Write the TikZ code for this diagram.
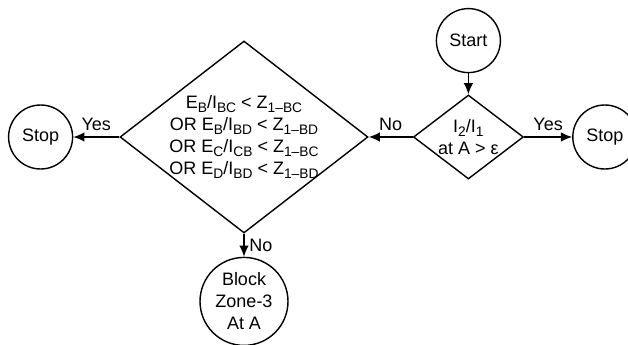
\documentclass[tikz,border=0pt]{standalone}
\usepackage{fontspec}
\setmainfont{Liberation Sans}
\usetikzlibrary{arrows.meta, positioning, shapes.geometric}
\newcommand{\lowsub}[1]{\raisebox{-0.22em}{\fontsize{9.8}{10}\selectfont #1}}
\tikzset{
    termcirc/.style={
        circle,
        draw,
        line width=1pt,
        inner sep=0pt,
        minimum size=1.6cm,
        align=center
    },
    decbox/.style={
        diamond,
        draw,
        line width=1pt,
        inner sep=0pt
    },
    decbig/.style={decbox, minimum width=6.2cm, minimum height=4.8cm},
    decsmall/.style={decbox, minimum width=2.75cm, minimum height=2.1cm},
    dectext/.style={align=center, inner sep=0pt},
    flowarrow/.style={-{Latex[length=2.8mm, width=2.4mm]}, line width=1pt}
}

\begin{document}
\begin{tikzpicture}[font=\fontsize{12.8}{15.6}\selectfont]
        \useasboundingbox (0,0) rectangle (15.7,-8.6);

        \node[decbig] (cond) at (6.1,-3.425) {};
        \node[dectext] (condlbl) at (cond.center) {E\lowsub{B}/I\lowsub{BC} < Z\lowsub{1–BC}\\OR E\lowsub{B}/I\lowsub{BD} < Z\lowsub{1–BD}\\OR E\lowsub{C}/I\lowsub{CB} < Z\lowsub{1–BC}\\OR E\lowsub{D}/I\lowsub{BD} < Z\lowsub{1–BD}};

        \node[decsmall, right=1.1cm of cond] (check) {};
        \node[dectext] (checklbl) at (check.center) {I\lowsub{2}/I\lowsub{1}\\at A > ε};

        \node[termcirc, above=0.525cm of check] (start) {Start};
        \node[termcirc, right=1.2cm of check] (stopR) {Stop};
        \node[termcirc, left=1.15cm of cond] (stopL) {Stop};
        \node[termcirc, minimum size=2.2cm, below=0.575cm of cond] (block) {Block\\Zone-3\\At A};

        \draw[flowarrow] (start) -- (check);
        \draw[flowarrow] (check) -- node[above=1pt] {No} (cond);
        \draw[flowarrow] (check) -- node[above=1pt] {Yes} (stopR);
        \draw[flowarrow] (cond) -- node[above=1pt] {Yes} (stopL);
        \draw[flowarrow] (cond) -- node[right=0pt] {No} (block);
    \end{tikzpicture}
\end{document}
